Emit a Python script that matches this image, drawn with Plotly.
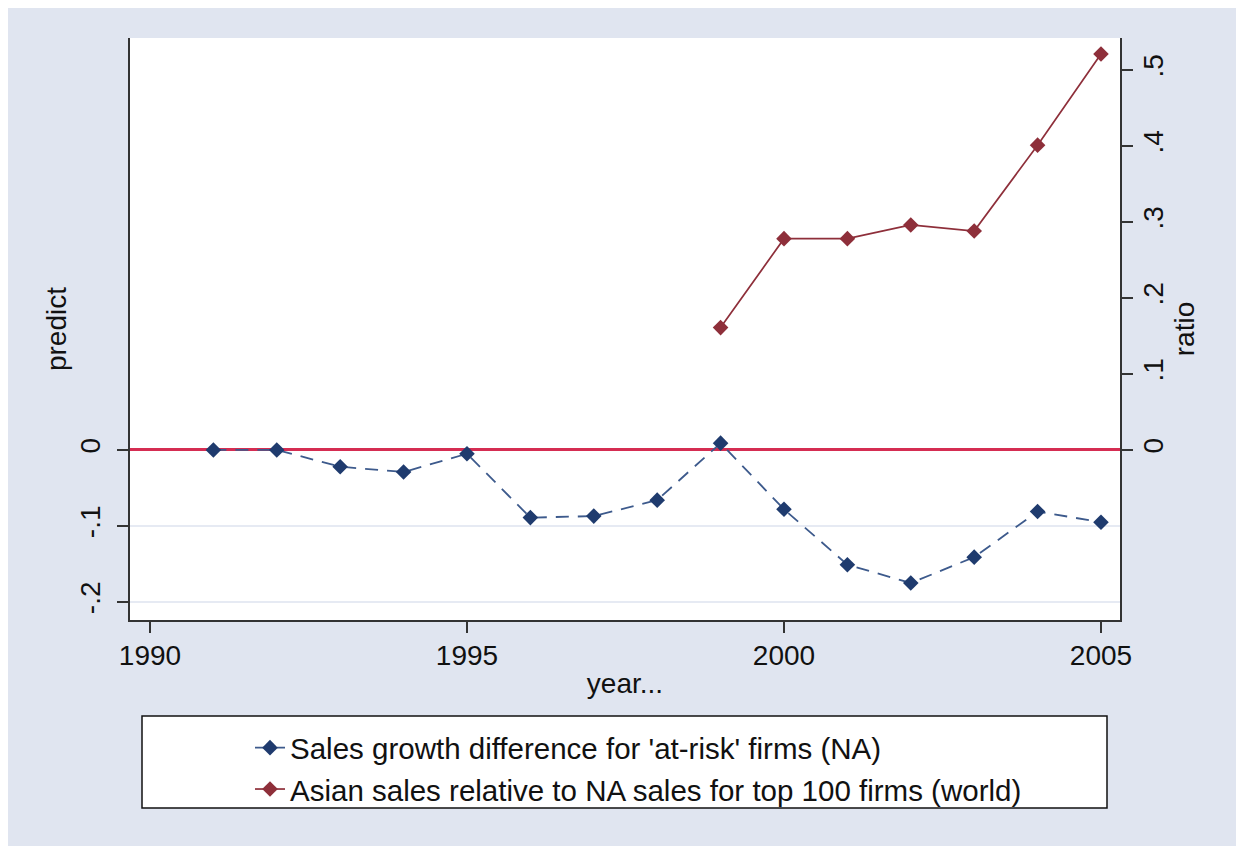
import plotly.graph_objects as go

years_pred = [1991, 1992, 1993, 1994, 1995, 1996, 1997, 1998, 1999, 2000, 2001, 2002, 2003, 2004, 2005]
predict = [0.000, 0.000, -0.022, -0.029, -0.005, -0.089, -0.087, -0.066, 0.009, -0.078, -0.151, -0.175, -0.141, -0.081, -0.095]

years_ratio = [1999, 2000, 2001, 2002, 2003, 2004, 2005]
ratio = [0.161, 0.278, 0.278, 0.296, 0.288, 0.401, 0.521]

x_ticks = [1990, 1995, 2000, 2005]
left_ticks = [0, -0.1, -0.2]
left_labels = ["0", "-.1", "-.2"]
right_ticks = [0, 0.1, 0.2, 0.3, 0.4, 0.5]
right_labels = ["0", ".1", ".2", ".3", ".4", ".5"]

name_pred = "Sales growth difference for 'at-risk' firms (NA)"
name_ratio = "Asian sales relative to NA sales for top 100 firms (world)"

BG = "#e0e5f0"
NAVY = "#1f3b6e"
NAVY_LINE = "#3d5a8c"
MAROON = "#8e2f3a"
ZERO_RED = "#d52d52"
GRID = "#e6eaf3"
AXIS = "#333333"
FONT = "Liberation Sans, Arial, sans-serif"

OFF = 8  # page margin offset in the screenshot
W, H = 1244, 846
L, T = 130 - OFF, 38 - OFF
R, B = W - (1120 - OFF), H - (620 - OFF)
pw, ph = W - L - R, H - T - B


def px_x(p):
    return (p - OFF - L) / pw


def px_y(p):
    return (H - B - (p - OFF)) / ph


yrange = [-0.2237, 0.542]

fig = go.Figure()
fig.add_trace(go.Scatter(
    x=years_pred, y=predict, name=name_pred, mode="lines+markers",
    line=dict(color=NAVY_LINE, width=1.8, dash="13px,9px"),
    marker=dict(symbol="diamond", size=12, color=NAVY),
    yaxis="y"))
fig.add_trace(go.Scatter(
    x=years_ratio, y=ratio, name=name_ratio, mode="lines+markers",
    line=dict(color=MAROON, width=1.7),
    marker=dict(symbol="diamond", size=12, color=MAROON),
    yaxis="y2"))

fig.update_layout(
    width=W, height=H,
    margin=dict(l=L, r=R, t=T, b=B, autoexpand=False),
    paper_bgcolor=BG, plot_bgcolor="white",
    font=dict(family=FONT, size=28, color="#111111"),
    xaxis=dict(
        range=[1989.685, 2005.3], tickvals=x_ticks, ticks="outside", ticklen=11,
        tickwidth=1.5, tickcolor=AXIS, showline=True, linecolor=AXIS, linewidth=2,
        showgrid=False, zeroline=False, ticklabelstandoff=-2,
        title=dict(text="year...", standoff=4, font=dict(size=28)),
    ),
    yaxis=dict(
        range=yrange, tickvals=left_ticks, ticktext=left_labels, tickangle=-90,
        ticks="outside", ticklen=11, tickwidth=1.5, tickcolor=AXIS,
        showline=True, linecolor=AXIS, linewidth=2,
        showgrid=True, gridcolor=GRID, gridwidth=2,
        zeroline=True, zerolinecolor=ZERO_RED, zerolinewidth=2.5,
        ticklabelstandoff=6,
        title=dict(text="predict", standoff=0, font=dict(size=28)),
    ),
    yaxis2=dict(
        range=yrange, tickvals=right_ticks, ticktext=right_labels, tickangle=-90,
        overlaying="y", side="right", anchor="x",
        ticks="outside", ticklen=11, tickwidth=1.5, tickcolor=AXIS,
        showline=True, linecolor=AXIS, linewidth=2,
        showgrid=False, zeroline=False, ticklabelstandoff=-4,
        title=dict(text="ratio", standoff=6, font=dict(size=28)),
    ),
    legend=dict(
        x=px_x(250), y=px_y(722), xanchor="left", yanchor="top",
        bgcolor="rgba(0,0,0,0)", borderwidth=0,
        font=dict(size=29.5, family=FONT), tracegroupgap=0,
    ),
    showlegend=True,
    shapes=[dict(
        type="rect", xref="paper", yref="paper",
        x0=px_x(142), x1=px_x(1107), y0=px_y(716), y1=px_y(808),
        fillcolor="white", line=dict(color="#111111", width=1.5), layer="below",
    )],
)

fig.write_html("out.html")
